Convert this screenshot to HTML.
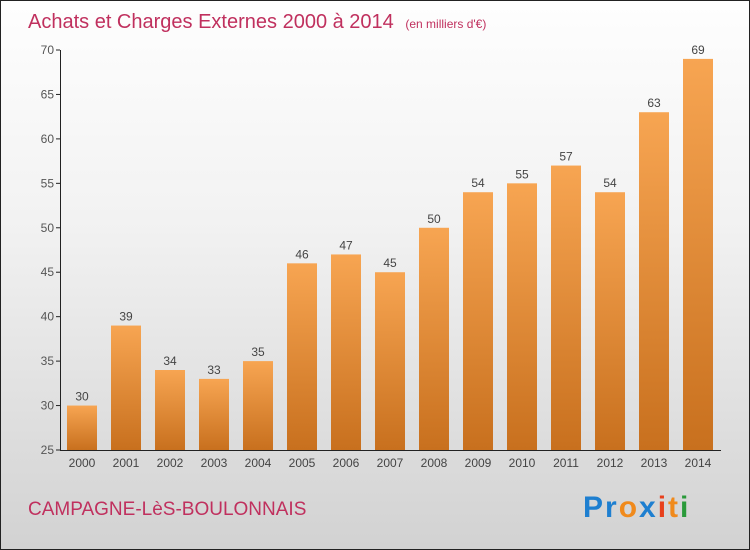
<!DOCTYPE html>
<html><head><meta charset="utf-8"><style>
body{margin:0;}
#c{position:relative;width:748px;height:548px;border:1px solid #222;background:linear-gradient(#fefefe,#f2f2f2 40%,#d2d2d2);font-family:"Liberation Sans",sans-serif;overflow:hidden}
</style></head><body>
<div id="c">
<svg width="748" height="548">
<defs><linearGradient id="g" x1="0" y1="0" x2="0" y2="1"><stop offset="0" stop-color="#f7a552"/><stop offset="1" stop-color="#c8701e"/></linearGradient></defs>
<text x="27" y="27" font-size="20" fill="#c0305e">Achats et Charges Externes 2000 à 2014 <tspan font-size="12" dx="6">(en milliers d'€)</tspan></text>
<g id="ax"></g>
<text x="27" y="514" font-size="19" fill="#c0305e">CAMPAGNE-LèS-BOULONNAIS</text>
<text x="582" y="516" font-size="30" font-weight="bold" letter-spacing="2"><tspan fill="#1e7fd0">Pr</tspan><tspan fill="#f08a1c">o</tspan><tspan fill="#1e7fd0">x</tspan><tspan fill="#e8401c">i</tspan><tspan fill="#f08a1c">t</tspan><tspan fill="#2a9a3a">i</tspan></text>
</svg></div>
<script>
const years=["2000","2001","2002","2003","2004","2005","2006","2007","2008","2009","2010","2011","2012","2013","2014"];
const values=[30,39,34,33,35,46,47,45,50,54,55,57,54,63,69];
const yTicks=[25,30,35,40,45,50,55,60,65,70];
const NS="http://www.w3.org/2000/svg";
const g=document.getElementById("ax");
const y=v=>449-(v-25)*400/45;
const x=i=>81+i*44;
function mk(t,a,txt){const e=document.createElementNS(NS,t);for(const k in a)e.setAttribute(k,a[k]);if(txt!=null)e.textContent=txt;g.appendChild(e);return e;}
yTicks.forEach(v=>{
 const l=mk("line",{x1:55,x2:59,y1:y(v),y2:y(v),stroke:"#222"});
 
 
 const t=mk("text",{x:53,y:y(v)+4,"font-size":12,fill:"#555","text-anchor":"end"},String(v));
 
 
});
values.forEach((v,i)=>{
 const r=mk("rect",{x:x(i)-15,y:y(v),width:30,height:y(25)-y(v),fill:"url(#g)"});
 
 
 const t=mk("text",{x:x(i),y:y(v)-5,"font-size":12,fill:"#444","text-anchor":"middle"},String(v));
 
 
 const k=mk("text",{x:x(i),y:466,"font-size":12,fill:"#444","text-anchor":"middle"},years[i]);
 
 
});
const ya=mk("line",{x1:59.5,x2:59.5,y1:y(70),y2:y(25),stroke:"#222"});


const xa=mk("line",{x1:59,x2:720,y1:y(25)+0.5,y2:y(25)+0.5,stroke:"#222"});


</script>
</body></html>
